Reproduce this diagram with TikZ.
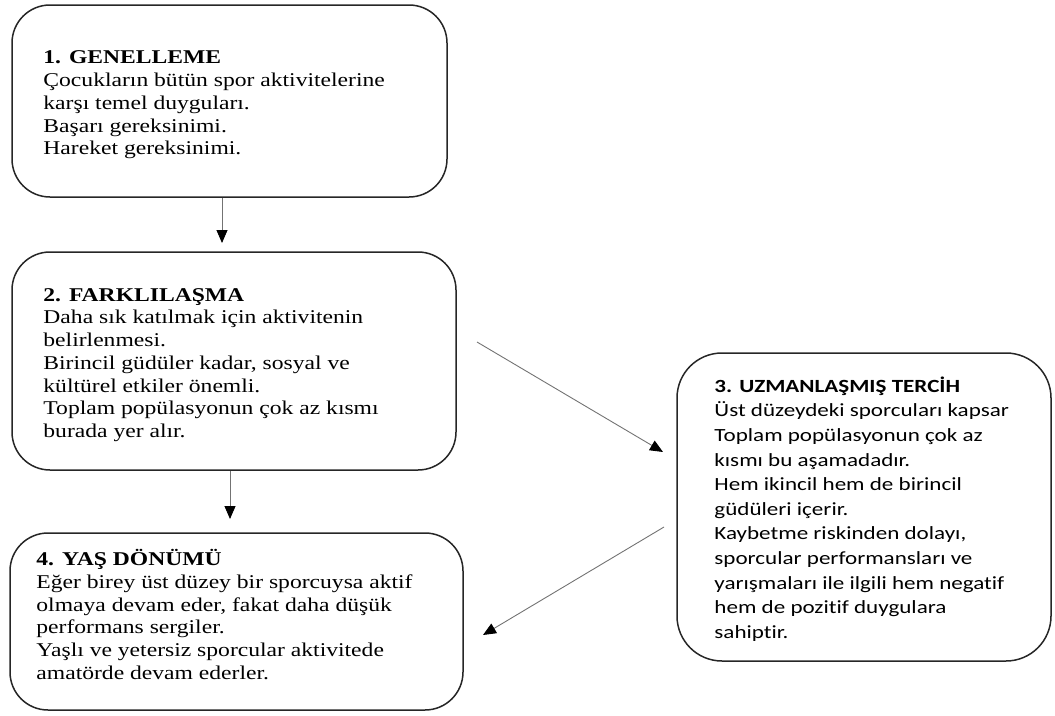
\documentclass[tikz,border=0pt]{standalone}
\usepackage{fontspec}
\setmainfont[FakeStretch=1.21]{Liberation Serif}
\newfontfamily\calibri[FakeStretch=1.24,RawFeature={-liga;-dlig;-calt}]{Carlito}
\usetikzlibrary{arrows.meta,calc}
\begin{document}
\begin{tikzpicture}[x=1pt,y=-1pt,
  box/.style={draw=black!85, line width=1.5pt, rounded corners=38pt, inner sep=0pt},
  txt/.style={anchor=west, align=left, inner sep=0pt, font=\fontsize{19.5}{22.7}\selectfont},
  txtsans/.style={anchor=west, align=left, inner sep=0pt, font=\calibri\fontsize{18.6}{24.6}\selectfont},
  link/.style={draw=black!55, line width=0.9pt, -{Triangle[length=13pt,width=11pt,color=black]}}]
\useasboundingbox (0,0) rectangle (1055,715);

% stage boxes
\node[box, minimum width=435pt, minimum height=192pt] (b1) at (229.5,101) {};
\node[box, minimum width=444pt, minimum height=218pt] (b2) at (234,361) {};
\node[box, minimum width=374pt, minimum height=308pt, rounded corners=45pt] (b3) at (864,507) {};
\node[box, minimum width=453pt, minimum height=177pt] (b4) at (236.5,621.5) {};

% stage texts
\node[txt] (t1) at ($(b1.west)+(32,4)$) {\textbf{1. GENELLEME}\\
Çocukların bütün spor aktivitelerine\\
karşı temel duyguları.\\
Başarı gereksinimi.\\
Hareket gereksinimi.};

\node[txt] (t2) at ($(b2.west)+(32,4)$) {\textbf{2. FARKLILAŞMA}\\
Daha sık katılmak için aktivitenin\\
belirlenmesi.\\
Birincil güdüler kadar, sosyal ve\\
kültürel etkiler önemli.\\
Toplam popülasyonun çok az kısmı\\
burada yer alır.};

\node[txtsans] (t3) at ($(b3.west)+(38,2)$) {\textbf{3. UZMANLAŞMIŞ TERCİH}\\
Üst düzeydeki sporcuları kapsar\\
Toplam popülasyonun çok az\\
kısmı bu aşamadadır.\\
Hem ikincil hem de birincil\\
güdüleri içerir.\\
Kaybetme riskinden dolayı,\\
sporcular performansları ve\\
yarışmaları ile ilgili hem negatif\\
hem de pozitif duygulara\\
sahiptir.};

\node[txt] (t4) at ($(b4.west)+(27,-7)$) {\textbf{4. YAŞ DÖNÜMÜ}\\
Eğer birey üst düzey bir sporcuysa aktif\\
olmaya devam eder, fakat daha düşük\\
performans sergiler.\\
Yaşlı ve yetersiz sporcular aktivitede\\
amatörde devam ederler.};

% free ends of the connectors
\coordinate (a1e) at (222,243);
\coordinate (a2e) at (230,519);
\coordinate (a3s) at (477,342);
\coordinate (a3e) at (663,452);
\coordinate (a4s) at (664,527);
\coordinate (a4e) at (483,635);

\draw[link] (b1.south -| a1e) -- (a1e);
\draw[link] (b2.south -| a2e) -- (a2e);
\draw[link] (a3s) -- (a3e);
\draw[link] (a4s) -- (a4e);
\end{tikzpicture}
\end{document}
